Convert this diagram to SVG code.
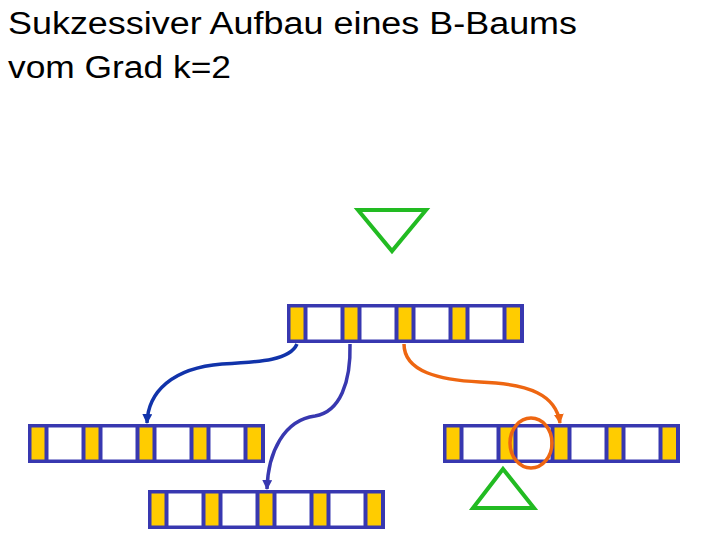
<svg xmlns="http://www.w3.org/2000/svg" width="720" height="540" viewBox="0 0 720 540">
<defs>
<style>
.title{font-family:"Liberation Sans",Arial,sans-serif;font-size:31px;fill:#000}
.frame{fill:#3838B0}
.key{fill:#FFCC00}
.gap{fill:#FFFFFF}
.tri{fill:none;stroke:#22BB22;stroke-width:4;stroke-linejoin:miter}
.conn{fill:none;stroke-width:3.5}
</style>
<marker id="arrB2" viewBox="0 0 10 10" refX="9" refY="5" markerWidth="10" markerHeight="10" markerUnits="userSpaceOnUse" orient="auto"><path d="M0,0 L10,5 L0,10 z" fill="#3838B0"/></marker>
<marker id="arrB1b" viewBox="0 0 10 10" refX="9" refY="5" markerWidth="10" markerHeight="10" markerUnits="userSpaceOnUse" orient="auto"><path d="M0,0 L10,5 L0,10 z" fill="#1133AA"/></marker>
<marker id="arrO" viewBox="0 0 10 10" refX="9" refY="5" markerWidth="10" markerHeight="10" markerUnits="userSpaceOnUse" orient="auto"><path d="M0,0 L10,5 L0,10 z" fill="#EE6611"/></marker>
<g id="node">
<rect class="frame" x="0" y="0" width="237" height="39"/>
<rect class="key" x="3.5" y="3.5" width="13" height="32"/>
<rect class="gap" x="20.5" y="3.5" width="33" height="32"/>
<rect class="key" x="57.5" y="3.5" width="13" height="32"/>
<rect class="gap" x="74.5" y="3.5" width="33" height="32"/>
<rect class="key" x="111.5" y="3.5" width="13" height="32"/>
<rect class="gap" x="128.5" y="3.5" width="33" height="32"/>
<rect class="key" x="165.5" y="3.5" width="13" height="32"/>
<rect class="gap" x="182.5" y="3.5" width="33" height="32"/>
<rect class="key" x="219.5" y="3.5" width="13.5" height="32"/>
</g>
</defs>
<g id="title">
<text class="title" x="8" y="34" textLength="569" lengthAdjust="spacingAndGlyphs">Sukzessiver Aufbau eines B-Baums</text>
<text class="title" x="8" y="78" textLength="223" lengthAdjust="spacingAndGlyphs">vom Grad k=2</text>
</g>
<g id="root-node"><use href="#node" x="287" y="304"/></g>
<g id="left-node"><use href="#node" x="28" y="424"/></g>
<g id="bottom-node"><use href="#node" x="148" y="490"/></g>
<g id="right-node"><use href="#node" x="443" y="424"/></g>
<g id="top-triangle"><polygon class="tri" points="358,210 426,210 392,251"/></g>
<g id="bottom-triangle"><polygon class="tri" points="503,469 473,508 534,508"/></g>
<g id="marker-circle"><ellipse cx="531" cy="443" rx="21" ry="25" fill="none" stroke="#EE6611" stroke-width="3.5"/></g>
<g id="connectors">
<path class="conn" stroke="#1133AA" d="M297,344 C290,360 262,362 222,364 C172,368 148,392 147,423" marker-end="url(#arrB1b)"/>
<path class="conn" stroke="#3838B0" d="M350,344 C351,382 340,412 315,416 C284,420 268,452 267,489" marker-end="url(#arrB2)"/>
<path class="conn" stroke="#EE6611" d="M404,344 C404,372 440,380 480,382 C530,384 556,395 560,423" marker-end="url(#arrO)"/>
</g>
</svg>
